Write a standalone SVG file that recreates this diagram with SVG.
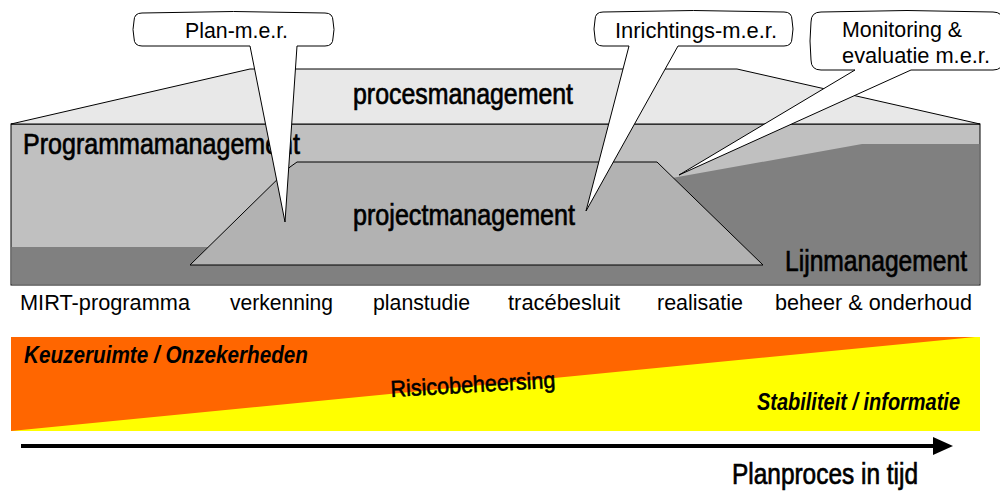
<svg xmlns="http://www.w3.org/2000/svg" width="1000" height="491" viewBox="0 0 1000 491">
<style>
.t{font-family:"Liberation Sans",Arial,sans-serif;fill:#000}
.big{font-size:30px;stroke:#000;stroke-width:0.7}
.lab{font-size:22px}
.co{font-size:22px}
.it{font-size:23px;font-style:italic;font-weight:bold}
.call{fill:#fff;stroke:#000;stroke-width:1}
</style>
<defs>
<marker id="ah" markerWidth="5" markerHeight="5" refX="0" refY="2.25" orient="auto" markerUnits="strokeWidth" viewBox="0 0 5 4.5">
<path d="M0,0 L5,2.25 L0,4.5 Z" fill="#000"/>
</marker>
</defs>
<rect width="1000" height="491" fill="#fff"/>

<g id="programmamanagement">
<rect x="11" y="124" width="969" height="161" fill="#c0c0c0" stroke="#000" stroke-width="1"/>
</g>
<g id="procesmanagement">
<polygon points="11,124 250,69 737,69 980,124" fill="#e8e8e8" stroke="#000" stroke-width="1"/>
</g>
<g id="lijnmanagement">
<polygon points="11.5,247 300,247 672,178 862,144 979.5,144 979.5,284.5 11.5,284.5" fill="#808080"/>
</g>
<g id="projectmanagement">
<polygon points="190,265 290,167 297,162 657,162 763,265" fill="#b2b2b2" stroke="#000" stroke-width="1"/>
</g>

<g id="labels-management">
<text class="t big" x="353" y="104" textLength="220" lengthAdjust="spacingAndGlyphs">procesmanagement</text>
<text class="t big" x="23" y="154" textLength="277" lengthAdjust="spacingAndGlyphs">Programmamanagement</text>
<text class="t big" x="353" y="225" textLength="222" lengthAdjust="spacingAndGlyphs">projectmanagement</text>
<text class="t big" x="785" y="271" textLength="182" lengthAdjust="spacingAndGlyphs">Lijnmanagement</text>
</g>

<g id="phases">
<text class="t lab" x="20" y="310" textLength="170" lengthAdjust="spacingAndGlyphs">MIRT-programma</text>
<text class="t lab" x="230" y="310" textLength="103" lengthAdjust="spacingAndGlyphs">verkenning</text>
<text class="t lab" x="373" y="310" textLength="97" lengthAdjust="spacingAndGlyphs">planstudie</text>
<text class="t lab" x="508" y="310" textLength="112" lengthAdjust="spacingAndGlyphs">tracébesluit</text>
<text class="t lab" x="657" y="310" textLength="86" lengthAdjust="spacingAndGlyphs">realisatie</text>
<text class="t lab" x="775" y="310" textLength="197" lengthAdjust="spacingAndGlyphs">beheer &amp; onderhoud</text>
</g>

<g id="callout-plan">
<path class="call" d="M142,13 Q233.5,10 325,13 Q333,13 333,21 Q335,29.5 333,38 Q333,46 325,46 L297,46 L285,222 L250,46 L142,46 Q134,46 134,38 Q132,29.5 134,21 Q134,13 142,13 Z"/>
<text class="t co" x="185" y="38" textLength="103" lengthAdjust="spacingAndGlyphs">Plan-m.e.r.</text>
</g>
<g id="callout-inrichtings">
<path class="call" d="M603,12 Q693.5,9 784,12 Q792,12 792,20 Q794,29 792,38 Q792,46 784,46 L678,46 L586,211 L629,46 L603,46 Q595,46 595,38 Q593,29 595,20 Q595,12 603,12 Z"/>
<text class="t co" x="615" y="38" textLength="162" lengthAdjust="spacingAndGlyphs">Inrichtings-m.e.r.</text>
</g>
<g id="callout-monitoring">
<path class="call" d="M821,12 Q907,9 993,12 Q1003,12 1003,22 Q1005,41 1003,60 Q1003,70 993,70 L911,70 L679,175 L855,70 L821,70 Q811,70 811,60 Q809,41 811,22 Q811,12 821,12 Z"/>
<text class="t co" x="842" y="37" textLength="120" lengthAdjust="spacingAndGlyphs">Monitoring &amp;</text>
<text class="t co" x="842" y="63" textLength="148" lengthAdjust="spacingAndGlyphs">evaluatie m.e.r.</text>
</g>

<g id="risk-band">
<rect x="11" y="337" width="969" height="94" fill="#ffff00"/>
<polygon points="11,337 975,337 11,431" fill="#ff6600"/>
<text class="t it" x="24" y="363" textLength="284" lengthAdjust="spacingAndGlyphs">Keuzeruimte / Onzekerheden</text>
<text class="t" x="391" y="397" font-size="23" stroke="#000" stroke-width="0.6" textLength="165" lengthAdjust="spacingAndGlyphs" transform="rotate(-3.3 391 397)">Risicobeheersing</text>
<text class="t it" x="757" y="410" textLength="203" lengthAdjust="spacingAndGlyphs">Stabiliteit / informatie</text>
</g>

<g id="connectors">
<line x1="21" y1="446" x2="933" y2="446" stroke="#000" stroke-width="4" marker-end="url(#ah)"/>
</g>
<text class="t" x="732" y="484" font-size="30" stroke="#000" stroke-width="0.7" textLength="186" lengthAdjust="spacingAndGlyphs">Planproces in tijd</text>
</svg>
